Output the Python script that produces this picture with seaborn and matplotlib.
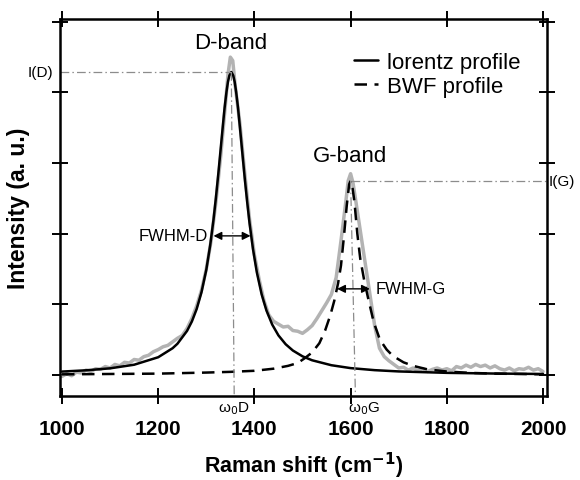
import numpy as np
import matplotlib
matplotlib.use("Agg")
import matplotlib.pyplot as plt
import seaborn as sns

raw_x = [1000, 1010, 1020, 1030, 1040, 1050, 1060, 1070, 1080, 1090,
         1100, 1110, 1120, 1130, 1140, 1150, 1160, 1170, 1180, 1190,
         1200, 1210, 1220, 1230, 1240, 1250, 1260, 1270, 1280, 1290,
         1300, 1310, 1320, 1330, 1340, 1345, 1350, 1355, 1360, 1370,
         1380, 1390, 1400, 1410, 1420, 1430, 1440, 1450, 1460, 1470,
         1480, 1490, 1500, 1510, 1520, 1530, 1540, 1550, 1560, 1570,
         1580, 1590, 1595, 1600, 1605, 1610, 1620, 1630, 1640, 1650,
         1660, 1670, 1680, 1690, 1700, 1710, 1720, 1730, 1740, 1750,
         1760, 1770, 1780, 1790, 1800, 1810, 1820, 1830, 1840, 1850,
         1860, 1870, 1880, 1890, 1900, 1910, 1920, 1930, 1940, 1950,
         1960, 1970, 1980, 1990, 2000]
raw_y = [-0.02, 0.02, -0.01, 0.04, 0.03, 0.07, 0.05, 0.09, 0.08, 0.12,
         0.10, 0.15, 0.13, 0.18, 0.17, 0.22, 0.21, 0.26, 0.28, 0.33,
         0.36, 0.40, 0.42, 0.47, 0.52, 0.56, 0.66, 0.80, 0.98, 1.20,
         1.50, 1.90, 2.45, 3.10, 3.85, 4.25, 4.50, 4.45, 4.10, 3.55,
         2.85, 2.20, 1.70, 1.35, 1.05, 0.85, 0.76, 0.72, 0.68, 0.69,
         0.63, 0.62, 0.59, 0.64, 0.70, 0.80, 0.91, 1.02, 1.14, 1.38,
         1.90, 2.45, 2.75, 2.85, 2.72, 2.50, 2.05, 1.60, 1.15, 0.70,
         0.38, 0.26, 0.20, 0.15, 0.10, 0.11, 0.07, 0.10, 0.06, 0.09,
         0.05, 0.08, 0.10, 0.07, 0.09, 0.06, 0.12, 0.10, 0.14, 0.11,
         0.15, 0.12, 0.14, 0.10, 0.13, 0.09, 0.07, 0.10, 0.06, 0.09,
         0.08, 0.11, 0.07, 0.09, 0.05]

# lorentz fit of the D band (solid)
lor_x = [1000, 1050, 1100, 1150, 1200, 1230, 1240, 1260, 1270, 1280,
         1290, 1300, 1308, 1315, 1320, 1325, 1330, 1335, 1338, 1342,
         1345, 1348, 1352, 1356, 1359, 1362, 1366, 1370, 1375, 1380,
         1385, 1390, 1397, 1405, 1415, 1425, 1437, 1450, 1465, 1480,
         1500, 1520, 1560, 1600, 1650, 1700, 1800, 1900, 2000]
lor_y = [0.049, 0.067, 0.095, 0.146, 0.252, 0.380, 0.443, 0.625, 0.758, 0.935,
         1.172, 1.49, 1.833, 2.20, 2.51, 2.85, 3.21, 3.57, 3.78, 4.01,
         4.15, 4.24, 4.29, 4.24, 4.15, 4.01, 3.78, 3.50, 3.14, 2.78,
         2.45, 2.145, 1.786, 1.456, 1.144, 0.915, 0.715, 0.561, 0.436, 0.347,
         0.265, 0.209, 0.139, 0.098, 0.069, 0.051, 0.031, 0.021, 0.015]

# BWF fit of the G band (dashed)
bwf_x = [1000, 1100, 1200, 1300, 1350, 1400, 1440, 1470, 1490, 1505,
         1520, 1535, 1547, 1558, 1566, 1574, 1580, 1586, 1592, 1597,
         1600, 1603, 1608, 1614, 1620, 1628, 1636, 1648, 1661, 1675,
         1688, 1710, 1730, 1760, 1800, 1850, 1900, 1950, 2000]
bwf_y = [0.01, 0.015, 0.02, 0.035, 0.045, 0.06, 0.09, 0.13, 0.17, 0.24,
         0.32, 0.45, 0.63, 0.85, 1.05, 1.30, 1.55, 1.95, 2.40, 2.70,
         2.75, 2.70, 2.45, 2.00, 1.65, 1.35, 1.10, 0.75, 0.50, 0.36,
         0.27, 0.18, 0.13, 0.08, 0.05, 0.03, 0.02, 0.015, 0.01]

# peak positions / heights / widths
d_pos, d_int = 1352, 4.29
g_pos, g_int = 1600, 2.75
fwhm_d = (1315, 1392, 1.97)
fwhm_g = (1572, 1640, 1.22)

sns.set_style("ticks")
plt.rcParams['font.family'] = ['Liberation Sans', 'DejaVu Sans']
plt.rcParams['text.color'] = 'black'
plt.rcParams['axes.labelcolor'] = 'black'
plt.rcParams['xtick.color'] = 'black'
plt.rcParams['ytick.color'] = 'black'
plt.rcParams['axes.edgecolor'] = 'black'

fig = plt.figure(figsize=(5.8, 4.81), dpi=100)
ax = fig.add_axes([0.1034, 0.1746, 0.8397, 0.7838])

sns.lineplot(x=raw_x, y=raw_y, ax=ax, color="#b3b3b3", linewidth=2.5)
sns.lineplot(x=lor_x, y=lor_y, ax=ax, color="black", linewidth=1.8,
             label="lorentz profile")
sns.lineplot(x=bwf_x, y=bwf_y, ax=ax, color="black", linewidth=1.8,
             linestyle=(0, (5, 3)), label="BWF profile")

ax.set_xlim(995.8, 2008.3)
ax.set_ylim(-0.297, 5.04)
ax.set_xticks([1000, 1200, 1400, 1600, 1800, 2000])
ax.set_yticks([0, 1, 2, 3, 4, 5])
ax.set_yticklabels([])
ax.tick_params(direction="inout", length=11, width=1.4, top=True, right=True,
               labelsize=15, pad=11)
for lab in ax.get_xticklabels():
    lab.set_fontweight("bold")
for s in ax.spines.values():
    s.set_linewidth(1.8)
    s.set_visible(True)

ax.set_xlabel("Raman shift (cm$^{\\mathbf{-1}}$)", fontsize=15.5,
              fontweight="bold")
ax.xaxis.set_label_coords(0.5, -0.143)
ax.set_ylabel("Intensity (a. u.)", fontsize=16.5, fontweight="bold")
ax.yaxis.set_label_coords(-0.062, 0.5)

# guide lines
dd = dict(color="#8c8c8c", linewidth=0.9, linestyle=(0, (7, 2.5, 1.2, 2.5)))
ax.plot([995.8, d_pos], [d_int, d_int], **dd)
ax.plot([g_pos, 2008.3], [g_int, g_int], clip_on=False, **dd)
ax.plot([d_pos, d_pos + 6], [d_int, -0.28], **dd)
ax.plot([g_pos, g_pos + 10], [g_int, -0.28], **dd)

# FWHM arrows
ap = dict(arrowstyle="<|-|>", color="black", lw=1.0, mutation_scale=12,
          shrinkA=0, shrinkB=0)
ax.annotate("", xy=(fwhm_d[1], fwhm_d[2]), xytext=(fwhm_d[0], fwhm_d[2]),
            arrowprops=ap)
ax.annotate("", xy=(fwhm_g[1], fwhm_g[2]), xytext=(fwhm_g[0], fwhm_g[2]),
            arrowprops=ap)
ax.text(fwhm_d[0] - 11, fwhm_d[2], "FWHM-D", fontsize=12, ha="right", va="center")
ax.text(fwhm_g[1] + 11, fwhm_g[2], "FWHM-G", fontsize=12, ha="left", va="center")

ax.text(1351, 4.63, "D-band", fontsize=16, ha="center", va="baseline")
ax.text(1599, 3.03, "G-band", fontsize=16, ha="center", va="baseline")
ax.text(981, d_int, "I(D)", fontsize=11, ha="right", va="center")
ax.text(2012, g_int, "I(G)", fontsize=11, ha="left", va="center")
ax.text(1358, -0.35, "ω$_0$D", fontsize=11, ha="center", va="top")
ax.text(1627, -0.35, "ω$_0$G", fontsize=11, ha="center", va="top")
for t in ax.texts:
    t.set_clip_on(False)

ax.legend(loc="upper left", bbox_to_anchor=(0.567, 0.96), frameon=False,
          fontsize=16, handlelength=1.1, handletextpad=0.4, labelspacing=0.15,
          borderpad=0.3)

fig.savefig("out.png", dpi=100)
